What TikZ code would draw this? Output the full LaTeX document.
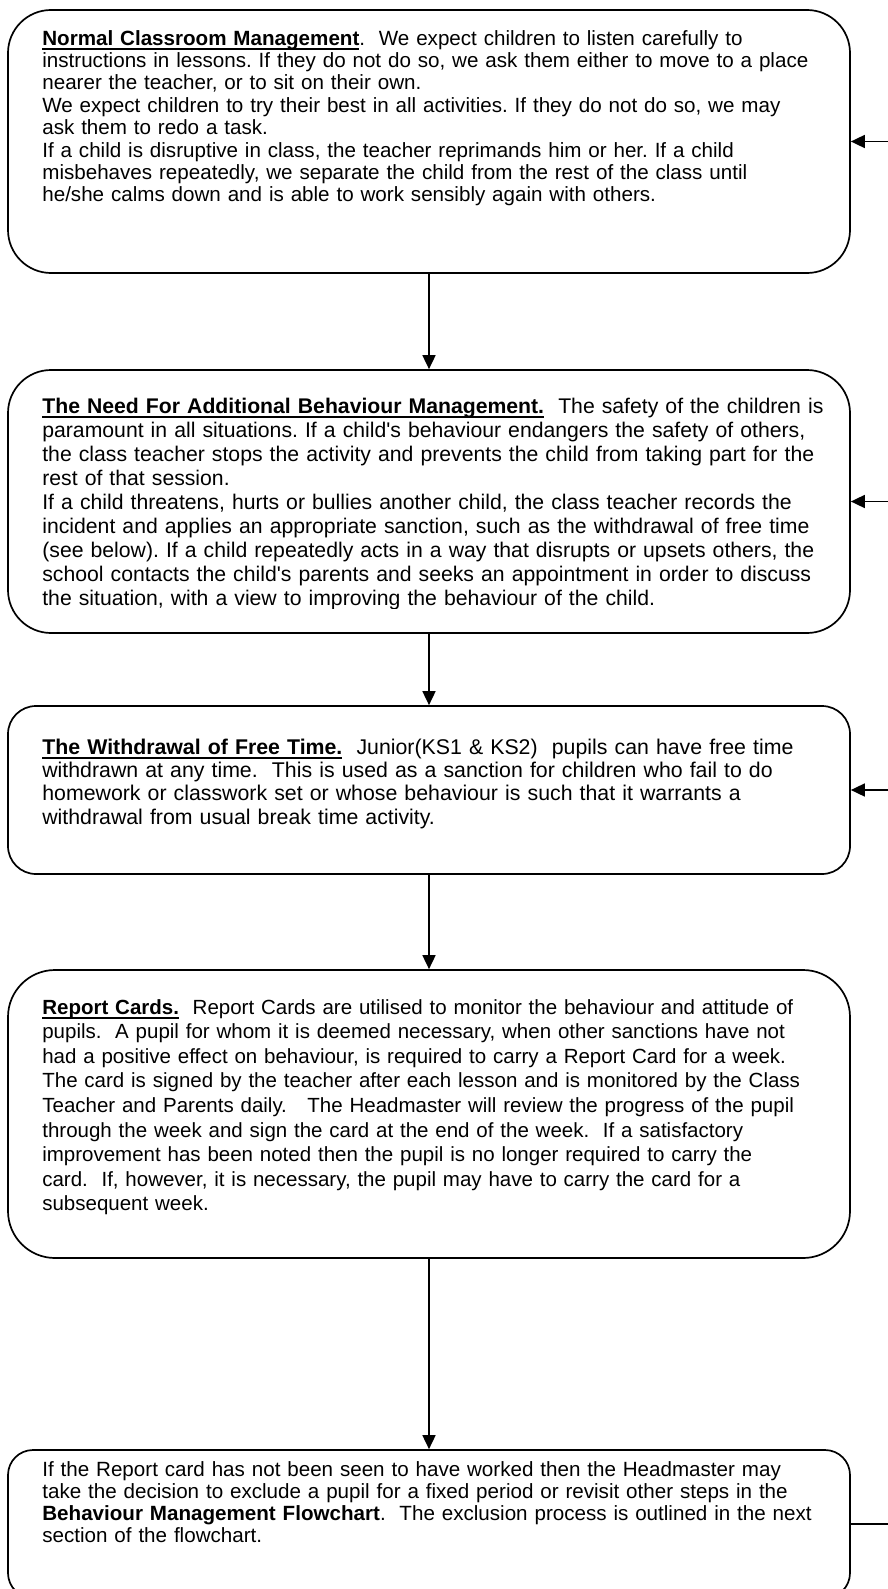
\documentclass[tikz,border=0pt]{standalone}
\usepackage{fontspec}
\setmainfont{Liberation Sans}[Ligatures=TeXOff]
\usepackage{tikz}
\usetikzlibrary{arrows.meta,positioning,calc}
\newsavebox{\undlbox}
\newcommand{\undl}[1]{\sbox{\undlbox}{#1}\rlap{\rule[-5pt]{\wd\undlbox}{1.9pt}}\usebox{\undlbox}}
\frenchspacing

\begin{document}
\begin{tikzpicture}[x=1pt,y=-1pt,>={Triangle[length=14pt,width=13pt]}]
\tikzset{
  stagebox/.style={draw=black,line width=1.7pt,minimum width=842pt,inner sep=0pt},
  body/.style 2 args={anchor=base west,inner sep=0pt,align=left,text width=835pt,font=\fontsize{#1}{#2}\selectfont},
  link/.style={->,line width=1.7pt}
}
\useasboundingbox (0,0) rectangle (888,1589);
\clip (0,0) rectangle (888,1589);

\node[stagebox,minimum height=263pt,rounded corners=43pt] (normal) at (429,141.5) {};
\node[stagebox,minimum height=263pt,rounded corners=43pt] (additional) at (429,501.5) {};
\node[stagebox,minimum height=168pt,rounded corners=28pt] (freetime) at (429,790) {};
\node[stagebox,minimum height=288pt,rounded corners=47pt] (report) at (429,1114) {};
\node[stagebox,minimum height=148pt,rounded corners=25pt] (exclude) at (429,1524) {};

\node[body={20.6pt}{22.4pt}] (normaltext) at ($(normal.north west)+(35,36)$) {%
\textbf{\undl{Normal Classroom Management}}.\ \ We expect children to listen carefully to\\
instructions in lessons. If they do not do so, we ask them either to move to a place\\
nearer the teacher, or to sit on their own.\\
We expect children to try their best in all activities. If they do not do so, we may\\
ask them to redo a task.\\
If a child is disruptive in class, the teacher reprimands him or her. If a child\\
misbehaves repeatedly, we separate the child from the rest of the class until\\
he/she calms down and is able to work sensibly again with others.};

\begin{scope}
\clip (0,370) rectangle (888,608);
\node[body={21.2pt}{24pt}] (additionaltext) at ($(additional.north west)+(35,44)$) {%
\textbf{\undl{The Need For Additional Behaviour Management.}}\ \ The safety of the children is\\
paramount in all situations. If a child's behaviour endangers the safety of others,\\
the class teacher stops the activity and prevents the child from taking part for the\\
rest of that session.\\
If a child threatens, hurts or bullies another child, the class teacher records the\\
incident and applies an appropriate sanction, such as the withdrawal of free time\\
(see below). If a child repeatedly acts in a way that disrupts or upsets others, the\\
school contacts the child's parents and seeks an appointment in order to discuss\\
the situation, with a view to improving the behaviour of the child.};
\end{scope}

\node[body={21.3pt}{23.3pt}] (freetimetext) at ($(freetime.north west)+(35,49)$) {%
\textbf{\undl{The Withdrawal of Free Time.}}\ \ Junior(KS1 \& KS2)\ \ pupils can have free time\\
withdrawn at any time.\ \ This is used as a sanction for children who fail to do\\
homework or classwork set or whose behaviour is such that it warrants a\\
withdrawal from usual break time activity.};

\node[body={20.5pt}{24.6pt}] (reporttext) at ($(report.north west)+(35,45)$) {%
\textbf{\undl{Report Cards.}}\ \ Report Cards are utilised to monitor the behaviour and attitude of\\
pupils.\ \ A pupil for whom it is deemed necessary, when other sanctions have not\\
had a positive effect on behaviour, is required to carry a Report Card for a week.\\
The card is signed by the teacher after each lesson and is monitored by the Class\\
Teacher and Parents daily.\ \ \ The Headmaster will review the progress of the pupil\\
through the week and sign the card at the end of the week.\ \ If a satisfactory\\
improvement has been noted then the pupil is no longer required to carry the\\
card.\ \ If, however, it is necessary, the pupil may have to carry the card for a\\
subsequent week.};

\node[body={20.6pt}{22.2pt}] (excludetext) at ($(exclude.north west)+(35,27)$) {%
If the Report card has not been seen to have worked then the Headmaster may\\
take the decision to exclude a pupil for a fixed period or revisit other steps in the\\
\textbf{Behaviour Management Flowchart}.\ \ The exclusion process is outlined in the next\\
section of the flowchart.};

\draw[link] (normal) -- (additional);
\draw[link] (additional) -- (freetime);
\draw[link] (freetime) -- (report);
\draw[link] (report) -- (exclude);

\coordinate (back1) at (888,141.5);
\coordinate (back2) at (888,501.5);
\coordinate (back3) at (888,790);
\coordinate (onward) at (888,1524);
\draw[link] (back1) -- (normal);
\draw[link] (back2) -- (additional);
\draw[link] (back3) -- (freetime);
\draw[line width=1.7pt] (exclude) -- (onward);
\end{tikzpicture}
\end{document}
